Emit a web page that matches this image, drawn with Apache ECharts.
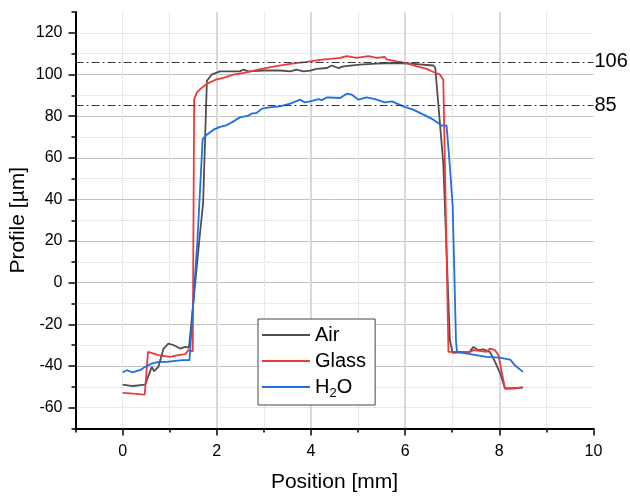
<!DOCTYPE html>
<html>
<head>
<meta charset="utf-8">
<script src="https://cdn.jsdelivr.net/npm/echarts@6/dist/echarts.min.js"></script>
<style>
  html, body { margin: 0; padding: 0; background: #fff; }
  #chart { width: 630px; height: 496px; }
</style>
</head>
<body>
<div id="chart"></div>
<script>
// data (position in mm, profile in µm)
const airX = [0, 0.22, 0.48, 0.62, 0.67, 0.76, 0.87, 0.97, 1.08, 1.22, 1.33, 1.41, 1.63, 1.71, 1.79, 1.89, 2.07, 2.49, 2.56, 2.67, 2.99, 3.35, 3.56, 3.69, 3.84, 3.98, 4.12, 4.34, 4.44, 4.58, 4.69, 5.04, 5.40, 5.75, 6.11, 6.60, 6.64, 6.81, 6.95, 7.01, 7.37, 7.45, 7.55, 7.66, 7.80, 7.91, 8.02, 8.12, 8.5];
const airY = [-48.9, -49.6, -48.9, -40.4, -42.5, -40.4, -31.6, -29.2, -29.9, -31.6, -30.8, -31.2, 20.5, 38.3, 97, 99.9, 101.5, 101.5, 102.3, 101.5, 101.9, 101.9, 101.5, 102.3, 101.5, 101.8, 102.7, 103.1, 104.3, 103.1, 103.9, 104.7, 105.2, 105.5, 105.2, 104.3, 103.1, 57.4, -27.6, -33.7, -33.2, -30.8, -32.4, -32, -33.2, -38, -43.6, -50.8, -50.4];

const glassX = [0, 0.23, 0.47, 0.54, 0.76, 1.01, 1.18, 1.33, 1.40, 1.49, 1.52, 1.58, 1.65, 1.79, 2.00, 2.14, 2.35, 2.64, 2.85, 3.20, 3.56, 3.91, 4.19, 4.41, 4.62, 4.76, 4.97, 5.22, 5.40, 5.57, 5.61, 5.82, 6.03, 6.25, 6.46, 6.60, 6.74, 6.81, 6.92, 7.38, 7.45, 7.73, 7.80, 7.91, 7.98, 8.12, 8.30, 8.5];
const glassY = [-52.9, -53.3, -53.7, -33.2, -34.8, -35.6, -34.8, -34.3, -32.4, -33, 88.2, 91.5, 93, 95.5, 97.7, 98.4, 99.9, 101, 102.2, 103.8, 105.1, 106, 107, 107.5, 108, 108.8, 108, 108.8, 108, 108.4, 107.2, 106.3, 105.5, 103.9, 102.7, 101.2, 99.9, 97.5, -33.2, -33.2, -32.4, -33.2, -31.6, -32.4, -34.8, -50.8, -50.8, -50.1];

const waterX = [0, 0.09, 0.20, 0.37, 0.48, 0.62, 0.76, 0.94, 1.08, 1.26, 1.42, 1.45, 1.59, 1.70, 1.79, 1.93, 2.07, 2.18, 2.32, 2.49, 2.67, 2.74, 2.85, 2.96, 3.13, 3.34, 3.56, 3.77, 3.87, 3.98, 4.16, 4.23, 4.34, 4.62, 4.76, 4.87, 5.01, 5.18, 5.36, 5.57, 5.72, 5.96, 6.17, 6.39, 6.60, 6.70, 6.78, 6.88, 6.95, 7.01, 7.08, 7.10, 7.38, 7.73, 8.01, 8.23, 8.33, 8.5];
const waterY = [-43.1, -42, -43, -42, -40.4, -38.8, -38, -38, -37.6, -37.2, -37.2, -37, 20.5, 69, 71.1, 73.5, 74.8, 75.4, 77, 79.4, 80.2, 81.2, 81.6, 83.6, 84.2, 84.7, 86, 87.9, 86.6, 87.1, 88.2, 87.7, 89, 88.7, 90.8, 90.3, 87.9, 89, 88.2, 86.6, 87.1, 84.7, 83.1, 80.7, 78.3, 76.7, 75.4, 75.5, 55.8, 36.6, -28, -33.2, -34.3, -35.6, -36, -36.9, -39.6, -42.8];

const seriesNames = ['Air', 'Glass', 'H2O'];
const seriesColors = ['#4f4f4f', '#ec3a3c', '#1e6fe2'];
const majorX = [0, 2, 4, 6, 8, 10];
const majorY = [-60, -40, -20, 0, 20, 40, 60, 80, 100, 120];
const refLevels = [106, 85];

const font = 'Liberation Sans, Arial, sans-serif';
const chart = echarts.init(document.getElementById('chart'));

function pairs(xs, ys) {
  return xs.map((x, i) => [x, ys[i]]);
}

const tickStyle = { color: '#000', width: 1.5 };
const labelStyle = { color: '#000', fontSize: 16, fontFamily: font };

const option = {
  animation: false,
  grid: { left: 75.5, right: 36.5, top: 12, bottom: 67.5, containLabel: false, outerBoundsMode: 'none' },
  legend: {
    orient: 'vertical',
    left: 258,
    top: 319,
    padding: [3, 9, 5, 4],
    itemGap: 0,
    itemWidth: 48,
    itemHeight: 2,
    icon: 'rect',
    backgroundColor: '#fff',
    borderColor: '#444',
    borderWidth: 1,
    textStyle: {
      fontFamily: font, fontSize: 20, lineHeight: 26, color: '#000',
      rich: { sub: { fontFamily: font, fontSize: 13, lineHeight: 11, verticalAlign: 'bottom', color: '#000' } }
    },
    formatter: (n) => (n === 'H2O' ? 'H{sub|2}O' : n),
    data: seriesNames
  },
  xAxis: [
    {
      // minor ticks + dotted grid
      type: 'value', position: 'bottom', min: -1, max: 10, interval: 1,
      axisLine: { show: false, onZero: false },
      axisTick: { show: true, length: 4, lineStyle: tickStyle },
      axisLabel: { show: false },
      splitLine: { show: true, showMinLine: false, showMaxLine: false, lineStyle: { type: 'dotted', color: '#d4d4d4', width: 1 } }
    },
    {
      type: 'value', position: 'bottom', min: -1, max: 10,
      name: 'Position [mm]', nameLocation: 'middle', nameGap: 43,
      nameTextStyle: { color: '#000', fontSize: 21, fontFamily: font },
      axisLine: { show: true, onZero: false, lineStyle: { color: '#000', width: 2 } },
      axisTick: { show: true, customValues: majorX, length: 7, lineStyle: tickStyle },
      axisLabel: Object.assign({ customValues: majorX, margin: 15 }, labelStyle),
      splitLine: { show: true, showMinLine: false, showMaxLine: false, lineStyle: { color: '#d9d9d9', width: 2 } }
    }
  ],
  yAxis: [
    {
      type: 'value', position: 'left', min: -70, max: 130, interval: 10,
      axisLine: { show: false, onZero: false },
      axisTick: { show: true, length: 4, lineStyle: tickStyle },
      axisLabel: { show: false },
      splitLine: { show: true, showMinLine: false, showMaxLine: false, lineStyle: { type: 'dotted', color: '#d4d4d4', width: 1 } }
    },
    {
      type: 'value', position: 'left', min: -70, max: 130, splitNumber: 10,
      name: 'Profile [µm]', nameLocation: 'middle', nameGap: 47, nameMoveOverlap: false,
      nameTextStyle: { color: '#000', fontSize: 21, fontFamily: font },
      axisLine: { show: true, onZero: false, lineStyle: { color: '#000', width: 2 } },
      axisTick: { show: true, customValues: majorY, length: 7, lineStyle: tickStyle },
      axisLabel: Object.assign({ customValues: majorY, margin: 13 }, labelStyle),
      splitLine: { show: true, showMinLine: false, showMaxLine: false, lineStyle: { color: '#c2c2c2', width: 1 } }
    }
  ],
  series: [
    {
      name: 'Air', type: 'line', xAxisIndex: 1, yAxisIndex: 1,
      data: pairs(airX, airY), symbol: 'none',
      lineStyle: { color: seriesColors[0], width: 1.8 }, itemStyle: { color: seriesColors[0] },
      markLine: {
        silent: true, symbol: ['none', 'none'],
        lineStyle: { color: '#3a3a3a', width: 1.2, type: [8, 3, 2, 3] },
        label: { position: 'end', distance: 1, formatter: '{c}', color: '#000', fontSize: 20, fontFamily: font },
        data: refLevels.map((v) => ({ yAxis: v }))
      }
    },
    {
      name: 'Glass', type: 'line', xAxisIndex: 1, yAxisIndex: 1,
      data: pairs(glassX, glassY), symbol: 'none',
      lineStyle: { color: seriesColors[1], width: 1.8 }, itemStyle: { color: seriesColors[1] }
    },
    {
      name: 'H2O', type: 'line', xAxisIndex: 1, yAxisIndex: 1,
      data: pairs(waterX, waterY), symbol: 'none',
      lineStyle: { color: seriesColors[2], width: 1.8 }, itemStyle: { color: seriesColors[2] }
    }
  ]
};

chart.setOption(option);
</script>
</body>
</html>
